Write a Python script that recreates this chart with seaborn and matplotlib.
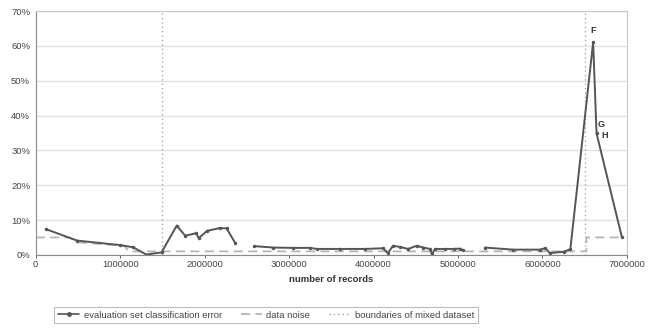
import matplotlib
matplotlib.use("Agg")
import matplotlib.pyplot as plt
import matplotlib.ticker as mticker
from matplotlib.lines import Line2D
import seaborn as sns
import pandas as pd

# evaluation set classification error, split into the three measured segments
seg_id = [0] * 14 + [1] * 21 + [2] * 10
records = [
    120000, 490000, 1000000, 1150000, 1310000, 1490000, 1670000, 1770000,
    1900000, 1930000, 2030000, 2180000, 2260000, 2360000,
    2590000, 2810000, 3050000, 3250000, 3330000, 3600000, 3900000, 4110000,
    4170000, 4230000, 4310000, 4410000, 4510000, 4590000, 4670000, 4690000,
    4730000, 4850000, 4950000, 5020000, 5060000,
    5320000, 5650000, 5970000, 6030000, 6090000, 6250000, 6330000, 6600000,
    6640000, 6940000,
]
error = [
    7.4, 4.1, 2.8, 2.2, 0.1, 0.7, 8.4, 5.5, 6.2, 4.8, 6.9, 7.7, 7.6, 3.5,
    2.5, 2.1, 2.0, 2.0, 1.7, 1.7, 1.7, 1.9, 0.5, 2.6, 2.3, 1.7, 2.6, 2.1,
    1.7, 0.2, 1.7, 1.7, 1.7, 1.8, 1.3,
    2.1, 1.5, 1.5, 1.9, 0.5, 0.9, 1.6, 61.1, 34.9, 5.1,
]

# data noise level
noise_x = [0, 400000, 500000, 1050000, 1100000, 6520000, 6520000, 6940000]
noise_y = [5.0, 5.0, 3.6, 2.6, 1.0, 1.0, 5.0, 5.0]

# boundaries of mixed dataset
boundaries = [1500000, 6500000]

# point labels near the peak
labels = ["F", "G", "H"]
label_x = [6600000, 6690000, 6730000]
label_y = [64.5, 37.5, 34.2]

df = pd.DataFrame({"records": records, "error": error, "seg": seg_id})

sns.set_theme(style="white")
plt.rcParams["font.family"] = ["Liberation Sans", "DejaVu Sans"]

fig = plt.figure(figsize=(6.49, 3.28), dpi=100)
ax = fig.add_axes([0.055, 0.223, 0.911, 0.743])

ax.set_xlim(0, 7000000)
ax.set_ylim(0, 70)
ax.yaxis.grid(True, color="#e2e2e2", linewidth=1.0)
ax.set_axisbelow(True)

for b in boundaries:
    ax.axvline(b, color="#9a9a9a", linestyle=(0, (1, 2.5)), linewidth=0.9)

ax.plot(noise_x, noise_y, color="#b5b5b5", linestyle=(0, (5, 3)), linewidth=1.3)

sns.lineplot(data=df, x="records", y="error", units="seg", estimator=None,
             color="#555555", linewidth=1.4, marker="o", markersize=2.5,
             markeredgewidth=0, sort=False, ax=ax, legend=False)

for t, lx, ly in zip(labels, label_x, label_y):
    ax.text(lx, ly, t, fontsize=6.5, fontweight="bold", color="#333333",
            ha="center", va="center")

ax.xaxis.set_major_locator(mticker.MultipleLocator(1000000))
ax.yaxis.set_major_locator(mticker.MultipleLocator(10))
ax.xaxis.set_major_formatter(mticker.FuncFormatter(lambda v, p: f"{int(v)}"))
ax.yaxis.set_major_formatter(mticker.FuncFormatter(lambda v, p: f"{int(v)}%"))
ax.tick_params(axis="both", labelsize=6.8, colors="#444444", length=2, width=0.6,
               pad=2)
ax.tick_params(axis="x", bottom=True)
for side, sp in ax.spines.items():
    sp.set_color("#c8c8c8")
    sp.set_linewidth(0.8)
ax.spines["left"].set_color("#8a8a8a")
ax.spines["bottom"].set_color("#8a8a8a")

ax.set_xlabel("number of records", fontsize=6.8, fontweight="bold",
              color="#333333", labelpad=4)
ax.set_ylabel("")

handles = [
    Line2D([], [], color="#555555", linewidth=1.2, marker="o", markersize=2.5),
    Line2D([], [], color="#b5b5b5", linestyle=(0, (5, 3)), linewidth=1.3),
    Line2D([], [], color="#9a9a9a", linestyle=(0, (1, 2.5)), linewidth=0.9),
]
names = ["evaluation set classification error", "data noise",
         "boundaries of mixed dataset"]
leg = fig.legend(handles, names, loc="lower center", ncol=3,
                 bbox_to_anchor=(0.41, 0.0), fontsize=6.8, frameon=True,
                 fancybox=False, handlelength=2.2, columnspacing=2.0,
                 borderpad=0.4, handletextpad=0.5)
leg.get_frame().set_edgecolor("#aaaaaa")
leg.get_frame().set_linewidth(0.8)
for txt in leg.get_texts():
    txt.set_color("#444444")

fig.savefig("out.png", dpi=100)
